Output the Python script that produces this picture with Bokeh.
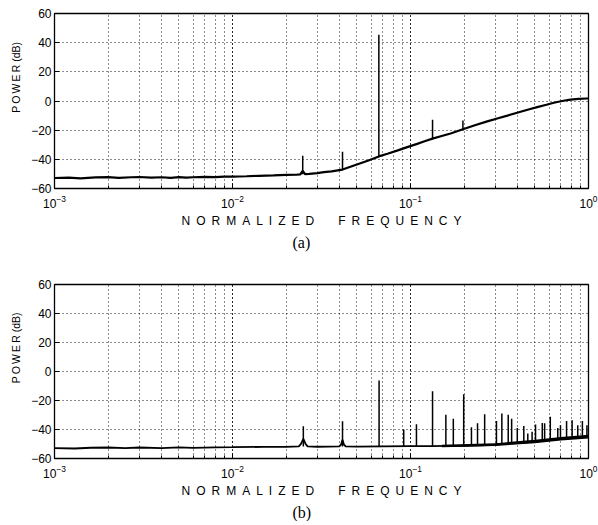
from bokeh.plotting import figure
from bokeh.models import FixedTicker, LogTicker, Range1d, Title, ColumnDataSource
from bokeh.layouts import column
from bokeh.embed import file_html
from bokeh.resources import INLINE

# ---------------- data ----------------
y_ticks = [-60, -40, -20, 0, 20, 40, 60]
y_tick_labels = ["\u221260", "\u221240", "\u221220", "0", "20", "40", "60"]

# panel (a) : smooth spectrum
top_base_f = [0.001, 0.0012, 0.0014, 0.0017, 0.002, 0.0023, 0.0027, 0.003, 0.0035,
              0.004, 0.0045, 0.005, 0.0055, 0.006, 0.007, 0.008, 0.009, 0.01, 0.012,
              0.014, 0.017, 0.02, 0.023, 0.024, 0.0248, 0.0256, 0.027, 0.03, 0.0326,
              0.036, 0.0415, 0.05, 0.058, 0.0664, 0.075, 0.084, 0.095, 0.109, 0.12,
              0.133, 0.148, 0.168, 0.197, 0.23, 0.27, 0.307, 0.35, 0.406, 0.46, 0.515,
              0.58, 0.639, 0.71, 0.792, 0.88, 0.98, 1.0]
top_base_db = [-52.8, -52.6, -53.0, -52.4, -52.2, -52.7, -52.3, -52.1, -52.6,
               -52.3, -52.7, -52.2, -52.6, -52.3, -52.0, -52.2, -51.9, -51.8, -51.6,
               -51.3, -51.0, -50.7, -50.5, -50.4, -48.0, -50.2, -50.0, -49.4, -48.8,
               -48.2, -47.0, -43.5, -40.8, -38.0, -36.0, -34.0, -31.8, -29.4, -27.6,
               -25.8, -24.2, -22.3, -19.4, -16.6, -14.0, -12.0, -10.0, -7.7, -5.8, -4.2,
               -2.6, -1.2, 0.0, 1.0, 1.5, 1.7, 1.7]
top_spk_f = [0.0248, 0.0415, 0.0664, 0.133, 0.197]
top_spk_base = [-50.3, -47.0, -38.0, -25.8, -19.4]
top_spk_peak = [-37.5, -34.8, 45.5, -12.8, -13.4]

# panel (b) : spectrum with many harmonics
bot_base_f = [0.001, 0.0013, 0.0016, 0.002, 0.0025, 0.003, 0.004, 0.005, 0.006, 0.008,
              0.01, 0.015, 0.02, 0.0236, 0.0243, 0.025, 0.0257, 0.0264, 0.03, 0.0398,
              0.0408, 0.0415, 0.0422, 0.0432, 0.05, 0.07, 0.1, 0.13, 0.16, 0.2, 0.25,
              0.3, 0.35, 0.4, 0.5, 0.6, 0.7, 0.8, 0.9, 1.0]
bot_base_db = [-52.8, -53.1, -52.6, -52.4, -52.9, -52.4, -52.8, -52.3, -52.7, -52.3,
               -52.2, -52.0, -52.0, -51.6, -49.8, -46.5, -49.8, -51.6, -51.9, -51.6,
               -50.2, -47.0, -50.2, -51.6, -51.8, -51.6, -51.5, -51.4, -51.3, -51.3,
               -50.9, -50.5, -49.8, -49.3, -48.3, -47.3, -46.5, -45.8, -45.3, -44.8]
bot_spk_f = [0.0250, 0.0415, 0.0666, 0.0916, 0.108, 0.133, 0.158, 0.174, 0.199, 0.220,
             0.238, 0.261, 0.304, 0.326, 0.354, 0.370, 0.398, 0.433, 0.456, 0.482,
             0.504, 0.550, 0.567, 0.61, 0.672, 0.696, 0.753, 0.809, 0.87, 0.924, 0.98]
bot_spk_base = [-51.8, -51.7, -51.6, -51.5, -51.5, -51.4, -51.3, -51.3, -51.3, -51.1,
                -51.0, -50.8, -50.4, -50.1, -49.8, -49.6, -49.3, -49.0, -48.8, -48.5,
                -48.3, -47.8, -47.6, -47.2, -46.7, -46.5, -46.1, -45.7, -45.4, -45.1, -44.9]
bot_spk_peak = [-37.7, -34.3, -6.2, -40.0, -36.4, -13.7, -29.8, -32.6, -15.7, -38.4,
                -35.7, -29.5, -34.2, -29.0, -29.8, -32.6, -39.0, -37.6, -42.8, -41.6,
                -36.6, -35.5, -35.7, -31.2, -39.0, -37.0, -34.2, -33.6, -37.0, -34.2, -37.0]
bot_band_f = [0.15, 0.3, 0.5, 0.7, 1.0]
bot_band_lo = [-52.3, -51.4, -49.4, -47.6, -46.2]
bot_band_hi = [-50.6, -49.5, -47.0, -45.2, -43.6]

X_LABEL = "\u2002".join("NORMALIZED") + "\u2003\u2003" + "\u2002".join("FREQUENCY")
Y_LABEL = "\u2002" * 9 + "\u2009".join("POWER") + " (dB)"
SANS = "Liberation Sans"


def make_panel(tag, base_f, base_db, base_w, spk_f, spk_base, spk_peak,
               border_top, border_bottom, frame_h, band=None):
    p = figure(x_axis_type="log", x_range=Range1d(0.001, 1.0), y_range=Range1d(-60, 60),
               frame_width=534, frame_height=frame_h,
               min_border_left=54, min_border_right=10, min_border_top=border_top,
               min_border_bottom=border_bottom,
               output_backend="svg", toolbar_location=None,
               background_fill_color="white", border_fill_color="white")
    p.outline_line_color = "black"
    p.outline_line_width = 1.3

    p.xaxis.ticker = LogTicker(num_minor_ticks=10)
    p.yaxis.ticker = FixedTicker(ticks=y_ticks, minor_ticks=[])
    p.yaxis.major_label_overrides = {v: s for v, s in zip(y_ticks, y_tick_labels)}

    for ax in (p.xaxis[0], p.yaxis[0]):
        ax.major_tick_in = 5
        ax.major_tick_out = 0
        ax.minor_tick_in = 3
        ax.minor_tick_out = 0
        ax.axis_line_color = "black"
        ax.major_tick_line_color = "black"
        ax.minor_tick_line_color = "black"
        ax.major_label_text_font = SANS
        ax.major_label_text_font_size = "12px"
        ax.major_label_text_color = "black"
        ax.axis_label_text_font = SANS
        ax.axis_label_text_font_style = "normal"
        ax.axis_label_text_color = "black"
    p.xaxis.major_label_standoff = 6
    p.xaxis.axis_label = X_LABEL
    p.xaxis.axis_label_text_font_size = "12px"
    p.xaxis.axis_label_standoff = 3
    p.yaxis.major_label_standoff = 3
    p.yaxis.axis_label = Y_LABEL
    p.yaxis.axis_label_text_font_size = "10.5px"
    p.yaxis.axis_label_standoff = 6

    p.xgrid.grid_line_color = "black"
    p.xgrid.grid_line_dash = "1 3"
    p.xgrid.grid_line_alpha = 0.9
    p.xgrid.minor_grid_line_color = "black"
    p.xgrid.minor_grid_line_dash = "1 3"
    p.xgrid.minor_grid_line_alpha = 0.9
    p.ygrid.grid_line_color = "black"
    p.ygrid.grid_line_dash = "1 3"
    p.ygrid.grid_line_alpha = 0.9

    if band is not None:
        bf, blo, bhi = band
        p.varea(x=bf, y1=blo, y2=bhi, fill_color="black")
    p.line(base_f, base_db, line_color="black", line_width=base_w)
    src = ColumnDataSource(dict(x=spk_f, y0=spk_base, y1=spk_peak))
    p.segment(x0="x", y0="y0", x1="x", y1="y1", source=src,
              line_color="black", line_width=1.5)

    p.add_layout(Title(text=tag, align="left", offset=238, text_font="Liberation Serif",
                       text_font_size="16px", text_font_style="normal",
                       text_color="black", standoff=2), "below")
    return p


pa = make_panel("(a)", top_base_f, top_base_db, 2.2, top_spk_f, top_spk_base,
                top_spk_peak, 13, 91, 175)
pb = make_panel("(b)", bot_base_f, bot_base_db, 1.8, bot_spk_f, bot_spk_base,
                bot_spk_peak, 5, 58, 174, band=(bot_band_f, bot_band_lo, bot_band_hi))

layout = column(pa, pb, spacing=0)
open("out.html", "w").write(file_html(layout, INLINE))
